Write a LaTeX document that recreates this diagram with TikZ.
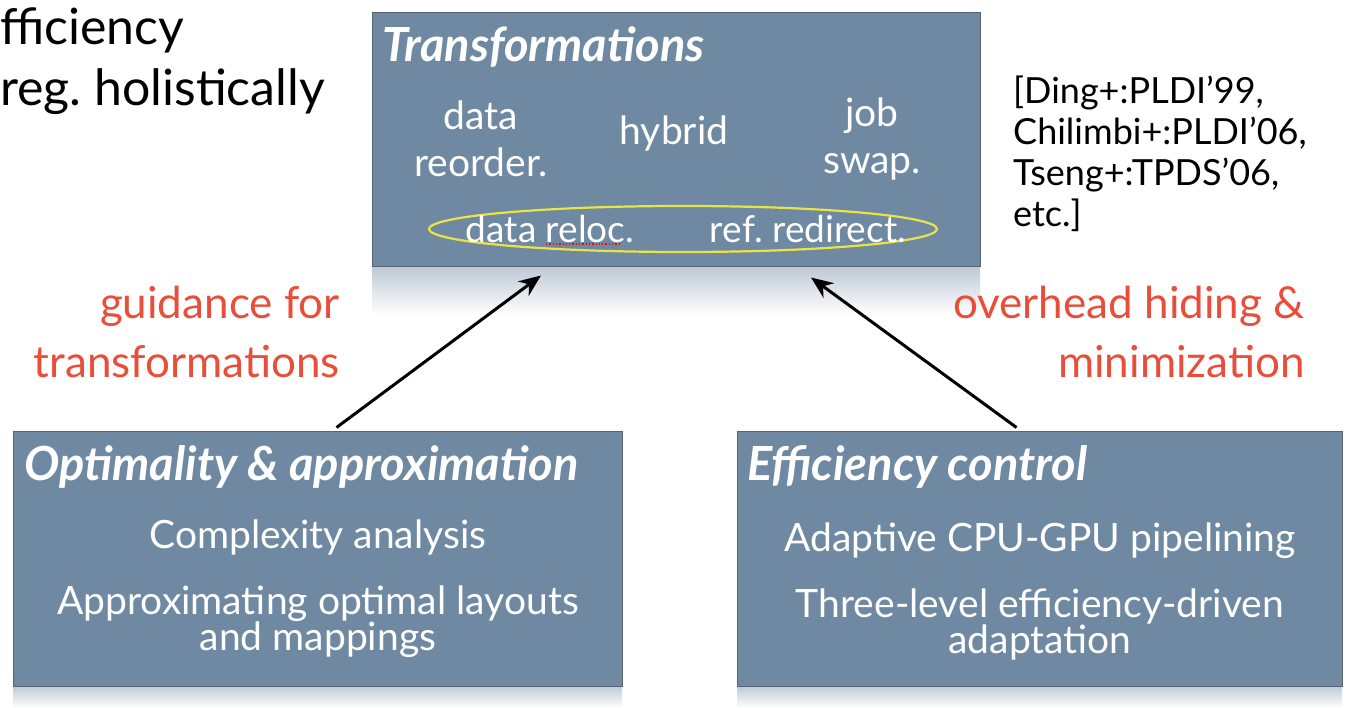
\documentclass[tikz,border=0pt]{standalone}
\usepackage{fontspec}
\setmainfont{Lato}
\usepackage{xcolor}
\usetikzlibrary{shapes.geometric,arrows.meta,positioning,calc}

\definecolor{slate}{RGB}{112,137,162}
\definecolor{slateedge}{RGB}{88,100,115}
\definecolor{labelred}{RGB}{232,78,58}
\definecolor{ovalyellow}{RGB}{232,228,70}

\newcommand{\fsz}[2]{\fontsize{#1}{#2}\selectfont}

\begin{document}
\frenchspacing
\begin{tikzpicture}[
    x=1pt, y=-1pt,
    panel/.style={rectangle, draw=slateedge, fill=slate, line width=1pt, inner sep=0pt},
    reflect/.style={top color=slate!45, bottom color=white, draw=none},
    paneltitle/.style={anchor=west, text=white, font=\fsz{47}{56}\bfseries\itshape, inner sep=0pt},
    paneltext/.style={text=white, align=center, font=\fsz{39}{47}, inner sep=0pt},
    ovaltext/.style={text=white, align=center, font=\fsz{37}{44}, inner sep=0pt},
    redlabel/.style={text=labelred, align=right, anchor=east, font=\fsz{44}{59}, inner sep=0pt},
    arrow/.style={-{Stealth[length=22pt, width=18pt]}, line width=3pt, draw=black}
]
    \useasboundingbox (0,0) rectangle (1347,708);

    % reflections under the panels
    \shade [reflect] (372,267) rectangle (980,315);
    \shade [reflect] (13,686) rectangle (622,708);
    \shade [reflect] (737,686) rectangle (1342,708);

    % panels
    \node [panel, minimum width=608pt, minimum height=254pt] (trans) at (676,140) {};
    \node [panel, minimum width=609pt, minimum height=254pt] (optim) at (317.5,559) {};
    \node [panel, minimum width=605pt, minimum height=254pt] (effic) at (1039.5,559) {};

    % top panel
    \node [paneltitle] (transtitle) at (382,47) {Transformations};
    \node [paneltext] (reorder) at (481,139) {data\\reorder.};
    \node [paneltext] (hybrid) at (674,133) {hybrid};
    \node [paneltext] (swap) at (872,139) {job\\swap.};
    \node [ellipse, draw=ovalyellow, line width=2.2pt, minimum width=508pt, minimum height=46pt] (oval) at (683,229) {};
    \node [ovaltext] (reloc) at (550,229) {data reloc.};
    \node [ovaltext] (redirect) at (808,229) {ref. redirect.};
    \draw [red, dotted, line width=1.3pt] (546,244) -- (620,244);

    % bottom panels
    \node [paneltitle] (optimtitle) at (24,467) {Optimality \& approximation};
    \node [paneltext] (complexity) at (318,537) {Complexity analysis};
    \node [paneltext] (layouts) at (318,622) {Approximating optimal layouts\\[-11pt]and mappings};
    \node [paneltitle] (efficitle) at (747,467) {Efficiency control};
    \node [paneltext] (pipelining) at (1040,541) {Adaptive CPU-GPU pipelining};
    \node [paneltext] (adaptation) at (1040,624) {Three-level efficiency-driven\\[-11pt]adaptation};

    % side texts
    \node [anchor=west, font=\fsz{50}{60}, inner sep=0pt] (efftext) at (0,30) {fficiency};
    \node [anchor=west, font=\fsz{50}{60}, inner sep=0pt] (holtext) at (0,92) {reg. holistically};
    \node [anchor=north west, align=left, font=\fsz{36}{41}, inner sep=0pt] (cites) at (1013,76)
        {[Ding+:PLDI'99,\\Chilimbi+:PLDI'06,\\Tseng+:TPDS'06,\\etc.]};
    \node [redlabel] (guidance) at (340,332) {guidance for\\transformations};
    \node [redlabel] (overhead) at (1305,332) {overhead hiding \&\\minimization};

    % connectors
    \draw [arrow] ([xshift=19pt, yshift=4pt]optim.north) -- ([xshift=-135pt, yshift=-8pt]trans.south);
    \draw [arrow] ([xshift=-23pt, yshift=4pt]effic.north) -- ([xshift=135pt, yshift=-10pt]trans.south);
\end{tikzpicture}
\end{document}
